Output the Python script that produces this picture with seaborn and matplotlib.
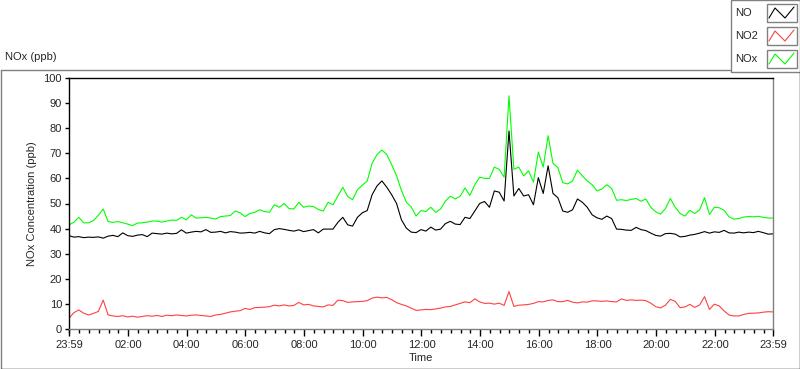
import numpy as np
import pandas as pd
import matplotlib
matplotlib.use("Agg")
import matplotlib.pyplot as plt
import matplotlib.dates as mdates
from matplotlib.lines import Line2D
from matplotlib.patches import Rectangle
import seaborn as sns

# ---- data (10-minute samples from 23:59 to 23:59 next day) ----
start_time = "2014-01-01 23:59"
n_points = 145

no_ppb = [
    37.2, 36.6, 36.8, 36.4, 36.6, 36.5, 36.7, 36.2, 37.0, 37.3, 36.8, 38.3,
    37.2, 36.9, 37.4, 37.6, 36.8, 38.2, 38.0, 37.8, 38.2, 37.9, 38.1, 39.5,
    38.2, 38.6, 38.9, 38.7, 39.6, 38.5, 38.6, 38.9, 38.3, 38.8, 38.6, 38.2,
    38.3, 38.5, 38.2, 38.9, 38.3, 38.0, 39.6, 40.0, 39.7, 39.3, 39.0, 39.5,
    38.8, 39.2, 39.6, 38.3, 39.8, 39.8, 39.8, 42.5, 44.5, 41.5, 41.0, 44.5,
    46.3, 47.2, 53.5, 57.0, 59.0, 56.5, 53.5, 50.0, 43.5, 40.2, 38.6, 38.4,
    39.6, 39.0, 40.6, 39.4, 39.8, 42.0, 42.9, 41.8, 41.6, 44.5, 44.0, 47.0,
    50.0, 50.8, 48.5, 55.0, 54.5, 51.0, 78.9, 53.0, 56.0, 53.0, 53.5, 49.5,
    60.3, 54.0, 65.0, 54.0, 52.3, 47.0, 46.5, 47.5, 51.8, 50.5, 48.5, 45.5,
    44.3, 43.7, 45.0, 44.0, 39.8, 39.7, 39.4, 39.3, 40.5, 39.6, 39.2, 38.2,
    37.3, 37.0, 38.0, 38.1, 37.8, 36.7, 36.9, 37.4, 37.7, 38.2, 38.8, 38.2,
    38.7, 38.5, 39.3, 38.3, 38.2, 38.6, 38.3, 38.6, 38.4, 38.9, 38.4, 37.8,
    37.9,
]

no2_ppb = [
    4.3, 6.5, 7.6, 6.3, 5.6, 6.2, 7.0, 11.5, 5.6, 5.2, 5.0, 5.3,
    4.8, 5.1, 4.7, 5.0, 5.3, 5.1, 5.4, 5.0, 5.5, 5.3, 5.6, 5.4,
    5.2, 5.5, 5.6, 5.4, 5.2, 5.0, 5.6, 5.8, 6.3, 6.8, 7.1, 7.3,
    8.2, 7.8, 8.5, 8.6, 8.7, 8.9, 9.5, 9.2, 9.6, 9.2, 9.4, 10.6,
    9.6, 9.8, 9.2, 9.0, 8.8, 9.6, 9.4, 11.5, 11.3, 10.6, 10.8, 10.9,
    11.0, 11.3, 12.3, 12.7, 12.4, 12.6, 11.7, 10.5, 9.8, 9.2, 8.3, 7.4,
    7.6, 7.8, 7.7, 8.0, 8.3, 8.8, 9.0, 9.6, 10.2, 10.8, 10.5, 12.0,
    10.8, 10.2, 10.3, 9.9, 10.3, 9.4, 14.9, 9.0, 9.5, 9.6, 9.8, 10.2,
    10.9, 10.8, 11.4, 11.6, 10.9, 10.9, 11.4, 10.7, 10.4, 10.8, 10.7, 11.2,
    11.2, 11.0, 11.2, 10.9, 10.8, 12.0, 11.4, 11.6, 11.4, 11.5, 11.3, 10.3,
    8.9, 8.4, 9.5, 11.8, 11.0, 8.5, 8.8, 9.8, 8.6, 9.6, 12.9, 7.8,
    9.9, 9.2, 7.2, 5.6, 5.2, 5.2, 5.8, 6.2, 6.3, 6.4, 6.7, 6.9,
    6.8,
]

nox_ppb = [
    41.5, 42.5, 44.5, 42.3, 42.3, 43.2, 45.3, 47.8, 42.8, 42.5, 42.8, 42.3,
    41.8, 41.2, 42.2, 42.3, 42.6, 43.0, 43.0, 42.6, 43.0, 43.4, 43.3, 44.5,
    43.5, 45.5, 44.2, 44.3, 44.5, 44.2, 43.8, 44.8, 45.0, 45.2, 47.0, 46.3,
    44.8, 46.0, 46.5, 47.5, 46.8, 46.5, 49.5, 48.5, 50.0, 48.0, 47.8, 50.5,
    48.5, 49.0, 48.8, 47.6, 47.0, 50.5, 49.5, 53.0, 56.5, 52.8, 51.5, 55.5,
    57.3, 59.0, 66.0, 69.5, 71.3, 69.5, 65.5, 61.0, 55.2, 50.5, 48.6, 45.0,
    47.2, 46.8, 48.5, 46.5, 47.8, 51.0, 52.9, 51.8, 52.9, 56.2, 53.2, 57.5,
    60.5, 60.0, 60.0, 64.5, 63.6, 60.5, 92.9, 63.6, 64.5, 61.0, 63.0, 58.5,
    70.5, 64.5, 77.0, 66.0, 64.3, 58.3, 57.8, 59.0, 63.3, 61.0, 59.0, 57.5,
    55.0, 55.8, 57.5, 56.0, 51.3, 51.5, 51.2, 51.6, 52.0, 50.9, 51.8, 48.5,
    46.7, 45.8, 48.0, 52.0, 48.5, 46.0, 45.0, 47.3, 46.0, 47.5, 52.3, 45.6,
    48.5, 48.3, 47.3, 44.7, 43.8, 44.0, 44.6, 44.8, 44.7, 44.9, 44.5, 44.2,
    44.2,
]

series_names = ["NOx", "NO", "NO2"]
series_colors = {"NO": "#000000", "NO2": "#ff4040", "NOx": "#00ff00"}
x_tick_labels = ["23:59", "02:00", "04:00", "06:00", "08:00", "10:00", "12:00",
                 "14:00", "16:00", "18:00", "20:00", "22:00", "23:59"]

times = pd.date_range(start=start_time, periods=n_points, freq="10min")
df = pd.DataFrame({"Time": times, "NO": no_ppb, "NO2": no2_ppb, "NOx": nox_ppb})
long_df = df.melt(id_vars="Time", var_name="Series", value_name="ppb")

# ---- styling ----
sns.set_theme(style="white")
plt.rcParams["font.family"] = ["Liberation Sans", "DejaVu Sans"]
plt.rcParams["font.size"] = 8

W, H = 800, 369
fig = plt.figure(figsize=(W / 100, H / 100), dpi=100)
fig.patch.set_facecolor("white")

def fx(px):
    return px / W

def fy(py):
    return 1 - py / H

ax = fig.add_axes([fx(69), fy(329), fx(773) - fx(69), fy(78) - fy(329)])
ax.set_facecolor("white")

for name in series_names:
    sub = long_df[long_df["Series"] == name]
    sns.lineplot(data=sub, x="Time", y="ppb", color=series_colors[name],
                 linewidth=0.8, ax=ax, legend=False, estimator=None)

t0 = times[0]
t1 = times[-1]
ax.set_xlim(t0, t1)
ax.set_ylim(0, 100)

day1 = pd.Timestamp(t0.date()) + pd.Timedelta(days=1)
major = [t0] + [day1 + pd.Timedelta(hours=h) for h in range(2, 24, 2)] + [t1]
ax.set_xticks(mdates.date2num(major))
ax.set_xticklabels(x_tick_labels)
ax.xaxis.set_minor_locator(mdates.MinuteLocator(byminute=[0, 20, 40]))
ax.set_yticks(range(0, 101, 10))
ax.set_yticklabels([str(v) for v in range(0, 101, 10)])

ax.tick_params(axis="x", which="major", direction="out", length=5, width=1,
               color="black", labelsize=8, pad=3, bottom=True)
ax.tick_params(axis="x", which="minor", direction="out", length=3, width=1,
               color="black", bottom=True)
ax.tick_params(axis="y", which="major", direction="out", length=3, width=1,
               color="black", labelsize=8, pad=2, left=True)

ax.set_xlabel("Time", fontsize=8, labelpad=2)
ax.set_ylabel("NOx Concentration (ppb)", fontsize=8, labelpad=5)

for side, col in [("left", "black"), ("top", "black"), ("right", "#808080"), ("bottom", "#808080")]:
    ax.spines[side].set_visible(True)
    ax.spines[side].set_color(col)
    ax.spines[side].set_linewidth(1)
ax.grid(False)

# ---- outer frame ----
fig.add_artist(Line2D([fx(0.5), fx(730)], [fy(69.5), fy(69.5)], color="#808080", lw=1))
fig.add_artist(Line2D([fx(0.5), fx(0.5)], [fy(69.5), fy(368.5)], color="#808080", lw=1))
fig.add_artist(Line2D([fx(0.5), fx(799.5)], [fy(368.5), fy(368.5)], color="#000000", lw=1))
fig.add_artist(Line2D([fx(799.5), fx(799.5)], [fy(72), fy(368.5)], color="#000000", lw=1))

fig.text(fx(5), fy(57), "NOx (ppb)", fontsize=8, va="center", ha="left")

# ---- legend box (LabVIEW-style plot legend) ----
fig.add_artist(Rectangle((fx(730.5), fy(71.5)), fx(799.5) - fx(730.5), fy(0.5) - fy(71.5),
                         fill=False, edgecolor="#808080", lw=1))
legend_rows = [("NO", 13), ("NO2", 36), ("NOx", 59)]
for name, yc in legend_rows:
    fig.text(fx(735), fy(yc), name, fontsize=8, va="center", ha="left")
    bx0, bx1 = 766.5, 796.5
    by0, by1 = yc - 9, yc + 9
    fig.add_artist(Rectangle((fx(bx0), fy(by1)), fx(bx1) - fx(bx0), fy(by0) - fy(by1),
                             fill=False, edgecolor="#808080", lw=1))
    zx = [769, 775, 785, 794]
    zy = [yc + 5, yc - 5, yc + 5, yc - 6]
    fig.add_artist(Line2D([fx(v) for v in zx], [fy(v) for v in zy],
                          color=series_colors[name], lw=0.8))

fig.savefig("out.png", dpi=100, facecolor="white")
